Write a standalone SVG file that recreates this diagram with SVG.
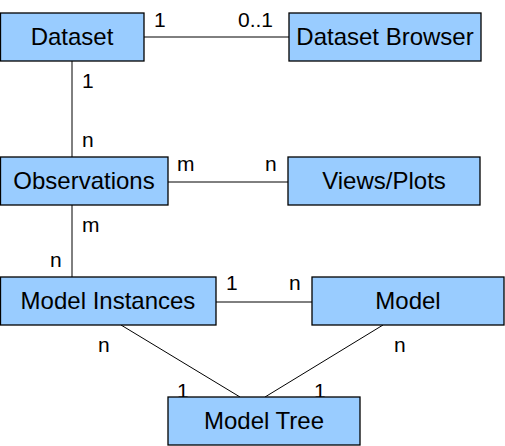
<svg xmlns="http://www.w3.org/2000/svg" width="505" height="446" viewBox="0 0 505 446">
<style>
.box{fill:#99ccff;stroke:#000;stroke-width:1.3}
.t{font-family:"Liberation Sans",Arial,sans-serif;font-size:24px;text-anchor:middle;fill:#000}
.l{font-family:"Liberation Sans",Arial,sans-serif;font-size:21px;fill:#000}
.c{stroke:#000;stroke-width:1;fill:none}
</style>
<rect width="505" height="446" fill="#fff"/>
<g id="connectors">
<line class="c" x1="144" y1="37" x2="289" y2="37"/>
<line class="c" x1="72" y1="61" x2="72" y2="157"/>
<line class="c" x1="168" y1="182" x2="288" y2="182"/>
<line class="c" x1="72" y1="205" x2="72" y2="277"/>
<line class="c" x1="216" y1="302" x2="312" y2="302"/>
<line class="c" x1="121" y1="325" x2="240" y2="397"/>
<line class="c" x1="383" y1="325" x2="265" y2="397"/>
<text class="l" x="154" y="27">1</text>
<text class="l" x="238" y="27">0..1</text>
<text class="l" x="82" y="88">1</text>
<text class="l" x="82" y="147">n</text>
<text class="l" x="177" y="171">m</text>
<text class="l" x="265" y="171">n</text>
<text class="l" x="82" y="232">m</text>
<text class="l" x="50" y="267">n</text>
<text class="l" x="226" y="290">1</text>
<text class="l" x="289" y="290">n</text>
<text class="l" x="98" y="352">n</text>
<text class="l" x="394" y="352">n</text>
<text class="l" x="177" y="398">1</text>
<text class="l" x="314" y="398">1</text>
</g>
<g id="dataset"><rect class="box" x="0.5" y="13" width="143.5" height="48"/><text class="t" x="72" y="45">Dataset</text></g>
<g id="dataset-browser"><rect class="box" x="289" y="13" width="192" height="48"/><text class="t" x="385" y="45">Dataset Browser</text></g>
<g id="observations"><rect class="box" x="0.5" y="157" width="167.5" height="48"/><text class="t" x="84" y="189">Observations</text></g>
<g id="views-plots"><rect class="box" x="288" y="157" width="192" height="48"/><text class="t" x="384" y="189">Views/Plots</text></g>
<g id="model-instances"><rect class="box" x="0.5" y="277" width="215.5" height="48"/><text class="t" x="108" y="309">Model Instances</text></g>
<g id="model"><rect class="box" x="312" y="277" width="192" height="48"/><text class="t" x="408" y="309">Model</text></g>
<g id="model-tree"><rect class="box" x="168" y="397" width="192" height="48"/><text class="t" x="264" y="429">Model Tree</text></g>
</svg>
